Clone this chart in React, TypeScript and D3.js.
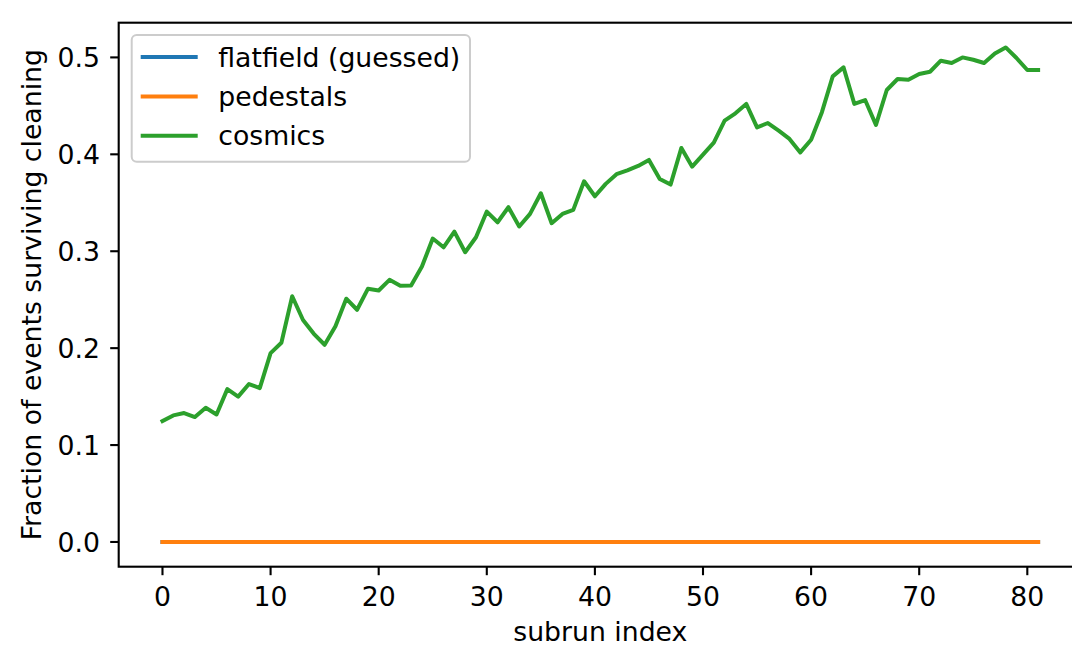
import React from "react";
import * as d3 from "d3";

const subrunIndex: number[] = Array.from({ length: 82 }, (_, i) => i);

const flatfield: number[] = Array.from({ length: 82 }, () => 0);
const pedestals: number[] = Array.from({ length: 82 }, () => 0);
const cosmics: number[] = [
  0.1247, 0.1306, 0.133, 0.1289, 0.1385, 0.1316, 0.1577, 0.150, 0.163, 0.1588,
  0.1949, 0.2055, 0.2536, 0.229, 0.2148, 0.2035, 0.2227, 0.251, 0.2396, 0.2612,
  0.2595, 0.2705, 0.2643, 0.2646, 0.2842, 0.3131, 0.3041, 0.3203, 0.299, 0.3144,
  0.3409, 0.3299, 0.3454, 0.3255, 0.3385, 0.3598, 0.3289, 0.3385, 0.3427, 0.3722,
  0.3567, 0.3695, 0.3795, 0.3835, 0.388, 0.3942, 0.3746, 0.3688, 0.4066, 0.3873,
  0.3997, 0.412, 0.4347, 0.4423, 0.452, 0.4278, 0.4323, 0.4244, 0.4159, 0.402,
  0.415, 0.4435, 0.4804, 0.4897, 0.452, 0.456, 0.4303, 0.4664, 0.4777, 0.477,
  0.4829, 0.4852, 0.4966, 0.4942, 0.50, 0.4976, 0.4942, 0.5041, 0.5103, 0.4994,
  0.487, 0.487,
];

const seriesNames = ["flatfield (guessed)", "pedestals", "cosmics"];
const seriesColors = ["#1f77b4", "#ff7f0e", "#2ca02c"];
const xTicks = [0, 10, 20, 30, 40, 50, 60, 70, 80];
const yTicks = [0.0, 0.1, 0.2, 0.3, 0.4, 0.5];

const W = 1072;
const H = 649;
const LEFT = 118.7;
const RIGHT = 1081.9;
const TOP = 22.7;
const BOTTOM = 566.7;
const FONT = "DejaVu Sans, sans-serif";
const FS = 26.7;

export default function App() {
  const xMin = 0, xMax = 81;
  const xm = (xMax - xMin) * 0.05;
  const x = d3.scaleLinear().domain([xMin - xm, xMax + xm]).range([LEFT, RIGHT]);
  const yMaxData = d3.max(cosmics) as number;
  const ym = yMaxData * 0.05;
  const y = d3.scaleLinear().domain([-ym, yMaxData + ym]).range([BOTTOM, TOP]);

  const line = d3
    .line<number>()
    .x((_, i) => x(subrunIndex[i]))
    .y((d) => y(d));

  const allSeries = [flatfield, pedestals, cosmics];
  const tickLen = 8.5;

  const legX = 131.7, legY = 35, legW = 338.3, legH = 126.7;
  const rowY = [57, 96.5, 135.7];

  return (
    <svg
      width={W}
      height={H}
      style={{ position: "absolute", left: 0, top: 0, background: "#fff" }}
      fontFamily={FONT}
    >
      <rect x={0} y={0} width={W} height={H} fill="#fff" />
      <defs>
        <clipPath id="plotclip">
          <rect x={LEFT} y={TOP} width={RIGHT - LEFT} height={BOTTOM - TOP} />
        </clipPath>
      </defs>
      <g clipPath="url(#plotclip)">
        {allSeries.map((s, k) => (
          <path
            key={k}
            d={line(s) as string}
            fill="none"
            stroke={seriesColors[k]}
            strokeWidth={4}
            strokeLinecap="square"
            strokeLinejoin="round"
          />
        ))}
      </g>
      {/* spines */}
      <rect
        x={LEFT}
        y={TOP}
        width={RIGHT - LEFT}
        height={BOTTOM - TOP}
        fill="none"
        stroke="#000"
        strokeWidth={2.1}
      />
      {/* x ticks */}
      {xTicks.map((t) => (
        <g key={"x" + t}>
          <line x1={x(t)} x2={x(t)} y1={BOTTOM} y2={BOTTOM + tickLen} stroke="#000" strokeWidth={2.1} />
          <text x={x(t)} y={606} textAnchor="middle" fontSize={FS} fill="#000">
            {t}
          </text>
        </g>
      ))}
      {/* y ticks */}
      {yTicks.map((t) => (
        <g key={"y" + t}>
          <line x1={LEFT - tickLen} x2={LEFT} y1={y(t)} y2={y(t)} stroke="#000" strokeWidth={2.1} />
          <text x={100} y={y(t) + 9.7} textAnchor="end" fontSize={FS} fill="#000">
            {t.toFixed(1)}
          </text>
        </g>
      ))}
      <text x={(LEFT + RIGHT) / 2} y={641} textAnchor="middle" fontSize={FS} fill="#000">
        subrun index
      </text>
      <text
        transform={`translate(41, ${(TOP + BOTTOM) / 2}) rotate(-90)`}
        textAnchor="middle"
        fontSize={FS}
        fill="#000"
      >
        Fraction of events surviving cleaning
      </text>
      {/* legend */}
      <rect
        x={legX}
        y={legY}
        width={legW}
        height={legH}
        rx={5}
        ry={5}
        fill="#fff"
        fillOpacity={0.8}
        stroke="#cccccc"
        strokeWidth={2}
      />
      {seriesNames.map((name, k) => (
        <g key={name}>
          <line
            x1={142.7}
            x2={195.7}
            y1={rowY[k]}
            y2={rowY[k]}
            stroke={seriesColors[k]}
            strokeWidth={4}
            strokeLinecap="square"
          />
          <text x={218.3} y={rowY[k] + 9.7} fontSize={FS} fill="#000">
            {name}
          </text>
        </g>
      ))}
    </svg>
  );
}
